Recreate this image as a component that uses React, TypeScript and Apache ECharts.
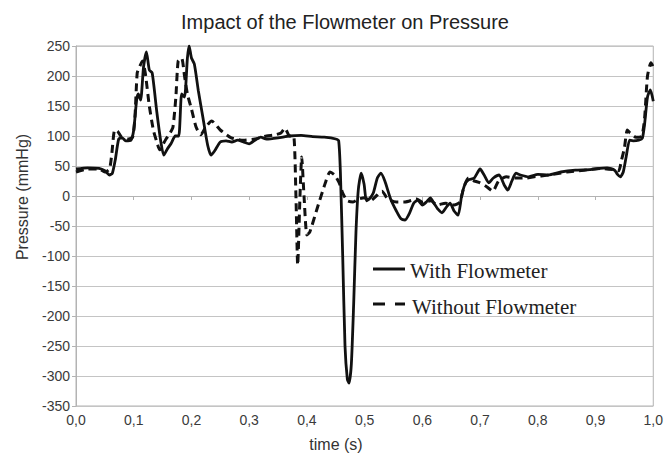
import React, { useEffect, useRef } from "react";
import * as echarts from "echarts";

const title = "Impact of the Flowmeter on Pressure";
const xName = "time (s)";
const yName = "Pressure (mmHg)";
const legendWith = "With Flowmeter";
const legendWithout = "Without Flowmeter";

const tWith = [0, 0.02, 0.04, 0.05, 0.058, 0.063, 0.068, 0.074, 0.08, 0.086, 0.095, 0.1, 0.105, 0.108, 0.112, 0.117, 0.122, 0.127, 0.132, 0.14, 0.147, 0.152, 0.158, 0.165, 0.172, 0.178, 0.183, 0.188, 0.193, 0.196, 0.2, 0.205, 0.212, 0.22, 0.228, 0.234, 0.24, 0.25, 0.26, 0.27, 0.28, 0.29, 0.3, 0.31, 0.32, 0.33, 0.35, 0.37, 0.39, 0.41, 0.43, 0.45, 0.455, 0.458, 0.462, 0.466, 0.47, 0.473, 0.477, 0.481, 0.485, 0.489, 0.494, 0.499, 0.503, 0.508, 0.515, 0.522, 0.528, 0.535, 0.545, 0.555, 0.563, 0.57, 0.578, 0.585, 0.592, 0.6, 0.607, 0.614, 0.62, 0.627, 0.634, 0.642, 0.648, 0.655, 0.662, 0.668, 0.674, 0.68, 0.69, 0.7, 0.707, 0.715, 0.723, 0.733, 0.742, 0.748, 0.755, 0.762, 0.77, 0.784, 0.8, 0.818, 0.84, 0.865, 0.89, 0.92, 0.933, 0.938, 0.943, 0.948, 0.953, 0.959, 0.965, 0.975, 0.981, 0.985, 0.99, 0.995, 1.0];
const pWith = [45, 47, 46, 42, 35, 38, 60, 95, 97, 92, 93, 110, 160, 170, 160, 215, 240, 210, 205, 140, 90, 68, 78, 88, 100, 100, 170, 165, 230, 250, 230, 220, 175, 130, 85, 68, 75, 90, 92, 90, 93, 90, 87, 93, 98, 95, 97, 100, 101, 99, 98, 95, 92, 40, -100, -250, -305, -312, -280, -180, -60, 10, 38, 20, -8, -5, 5, 30, 38, 25, -5, -25, -38, -40, -28, -12, -7, -15, -10, -3, -12, -22, -28, -18, -12, -25, -32, 0, 20, 27, 30, 45, 35, 22, 30, 35, 18, 10, 25, 38, 35, 32, 36, 35, 40, 43, 44, 47, 43, 36, 32, 40, 65, 93, 92, 93, 96, 120, 165, 177, 158];

const tWithout = [0, 0.02, 0.04, 0.05, 0.058, 0.062, 0.067, 0.072, 0.079, 0.09, 0.098, 0.102, 0.106, 0.11, 0.115, 0.12, 0.127, 0.134, 0.14, 0.145, 0.15, 0.156, 0.163, 0.168, 0.173, 0.177, 0.183, 0.188, 0.193, 0.2, 0.208, 0.216, 0.225, 0.235, 0.25, 0.269, 0.29, 0.31, 0.33, 0.345, 0.355, 0.362, 0.37, 0.377, 0.381, 0.384, 0.388, 0.391, 0.395, 0.4, 0.405, 0.418, 0.432, 0.44, 0.448, 0.456, 0.462, 0.47, 0.48, 0.49, 0.5, 0.51, 0.52, 0.53, 0.54, 0.555, 0.57, 0.59, 0.6, 0.615, 0.625, 0.64, 0.655, 0.665, 0.672, 0.68, 0.69, 0.7, 0.712, 0.722, 0.732, 0.745, 0.76, 0.78, 0.8, 0.82, 0.85, 0.88, 0.91, 0.93, 0.94, 0.945, 0.95, 0.955, 0.96, 0.97, 0.98, 0.985, 0.99, 0.996, 1.0];
const pWithout = [40, 45, 45, 40, 45, 70, 110, 108, 98, 95, 98, 130, 205, 215, 225, 205, 150, 110, 90, 77, 85, 95, 105, 115, 165, 225, 230, 200, 170, 145, 115, 102, 115, 125, 110, 97, 93, 95, 100, 102, 105, 113, 100, 100, 0, -115, 0, 65, 0, -65, -60, -20, 22, 40, 35, 22, 5, -8, -10, -5, -3, -8, 0, 8, -5, -10, -10, -5, -10, -8, -15, -12, -15, -10, 15, 30, 25, 22, 15, 8, 25, 32, 30, 30, 33, 35, 40, 43, 46, 44, 42, 60, 80, 110, 105, 98, 100, 130, 200, 222, 215];

const App: React.FC = () => {
  const ref = useRef<HTMLDivElement>(null);
  useEffect(() => {
    if (!ref.current) return;
    const chart = echarts.init(ref.current, undefined, { renderer: "svg" });
    const axisGray = "#b3b3b3";
    const labelColor = "#3a3a3a";
    chart.setOption({
      animation: false,
      backgroundColor: "#ffffff",
      grid: { left: 76, right: 7, top: 46, bottom: 48, show: true, borderColor: axisGray, borderWidth: 1 },
      xAxis: {
        type: "value",
        min: 0,
        max: 1,
        interval: 0.1,
        axisLine: { show: true, lineStyle: { color: axisGray, width: 1 } },
        axisTick: { show: true, length: 4, lineStyle: { color: axisGray } },
        splitLine: { show: false },
        axisLabel: {
          color: labelColor,
          fontSize: 14,
          fontFamily: "Liberation Sans, Arial, sans-serif",
          margin: 7,
          formatter: (v: number) => v.toFixed(1).replace(".", ","),
        },
      },
      yAxis: {
        type: "value",
        min: -350,
        max: 250,
        interval: 50,
        axisLine: { show: true, lineStyle: { color: axisGray, width: 1 } },
        axisTick: { show: true, length: 4, lineStyle: { color: axisGray } },
        splitLine: { show: true, lineStyle: { color: "#c4c4c4", width: 1 } },
        axisLabel: {
          color: labelColor,
          fontSize: 14,
          fontFamily: "Liberation Sans, Arial, sans-serif",
          margin: 6,
        },
      },
      series: [
        {
          name: legendWith,
          type: "line",
          data: tWith.map((t, i) => [t, pWith[i]]),
          showSymbol: false,
          smooth: 0.2,
          lineStyle: { color: "#111111", width: 2.8, type: "solid" },
        },
        {
          name: legendWithout,
          type: "line",
          data: tWithout.map((t, i) => [t, pWithout[i]]),
          showSymbol: false,
          smooth: 0.2,
          lineStyle: { color: "#111111", width: 3, type: [8, 5] },
        },
      ],
      graphic: [
        {
          type: "text",
          x: 345,
          y: 22,
          style: {
            text: title,
            fill: "#222222",
            fontSize: 20,
            fontFamily: "Liberation Sans, Arial, sans-serif",
            align: "center",
            verticalAlign: "middle",
          },
        },
        {
          type: "text",
          x: 336,
          y: 444,
          style: {
            text: xName,
            fill: "#333333",
            fontSize: 16,
            fontFamily: "Liberation Sans, Arial, sans-serif",
            align: "center",
            verticalAlign: "middle",
          },
        },
        {
          type: "text",
          x: 22,
          y: 197,
          rotation: Math.PI / 2,
          style: {
            text: yName,
            fill: "#333333",
            fontSize: 16,
            fontFamily: "Liberation Sans, Arial, sans-serif",
            align: "center",
            verticalAlign: "middle",
          },
        },
        {
          type: "line",
          shape: { x1: 373, y1: 269, x2: 405, y2: 269 },
          style: { stroke: "#111111", lineWidth: 3 },
        },
        {
          type: "text",
          x: 410,
          y: 271,
          style: {
            text: legendWith,
            fill: "#222222",
            fontSize: 21,
            fontFamily: "Liberation Serif, Times New Roman, serif",
            align: "left",
            verticalAlign: "middle",
          },
        },
        {
          type: "line",
          shape: { x1: 373, y1: 304, x2: 385, y2: 304 },
          style: { stroke: "#111111", lineWidth: 3 },
        },
        {
          type: "line",
          shape: { x1: 395, y1: 304, x2: 405, y2: 304 },
          style: { stroke: "#111111", lineWidth: 3 },
        },
        {
          type: "text",
          x: 412,
          y: 307,
          style: {
            text: legendWithout,
            fill: "#222222",
            fontSize: 21,
            fontFamily: "Liberation Serif, Times New Roman, serif",
            align: "left",
            verticalAlign: "middle",
          },
        },
      ],
    });
    return () => chart.dispose();
  }, []);
  return <div ref={ref} style={{ width: 666, height: 454, position: "absolute", left: 0, top: 0 }} />;
};

export default App;
